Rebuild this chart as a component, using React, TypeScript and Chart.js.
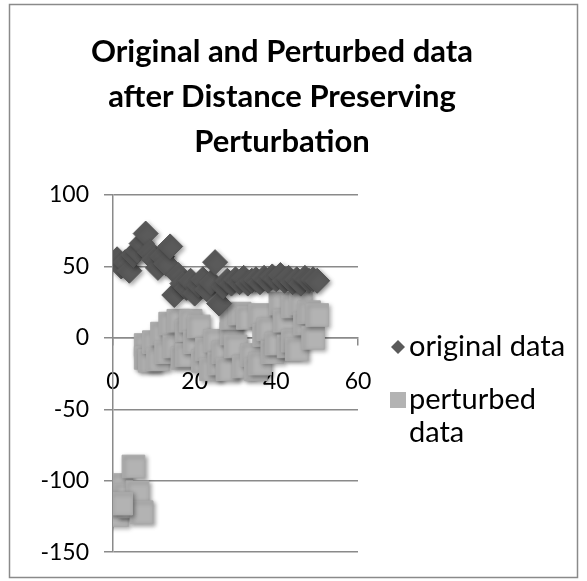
import React, { useEffect, useRef } from "react";
import { Chart, registerables } from "chart.js";

Chart.register(...registerables);

const TITLE_LINES = ["Original and Perturbed data", "after Distance Preserving", "Perturbation"];
const SERIES_NAMES = ["original data", "perturbed data"];
const X_TICKS = [0, 20, 40, 60];
const Y_TICKS = [-150, -100, -50, 0, 50, 100];

const originalX = [1, 2, 3, 4, 5, 6, 7, 8, 9, 10, 11, 12, 13, 14, 15, 16, 17, 18, 19, 20, 21, 22, 23, 24, 25, 26, 27, 28, 29, 30, 31, 32, 33, 34, 35, 36, 37, 38, 39, 40, 41, 42, 43, 44, 45, 46, 47, 48, 49, 50];
const originalY = [55, 50, 53, 47, 58, 61, 66, 73, 60, 55, 49, 57, 52, 64, 30, 44, 38, 35, 40, 31, 37, 41, 34, 39, 53, 24, 36, 40, 38, 41, 39, 42, 38, 40, 41, 39, 42, 40, 43, 41, 44, 40, 42, 39, 41, 38, 42, 40, 41, 40];

const perturbedX = [1, 2, 3, 4, 5, 6, 7, 2, 8, 8, 9, 10, 11, 12, 13, 14, 15, 16, 17, 18, 18, 19, 20, 21, 22, 23, 24, 25, 26, 27, 28, 29, 29, 30, 31, 32, 33, 34, 35, 36, 36, 37, 38, 39, 40, 41, 42, 43, 44, 44, 45, 46, 47, 48, 49, 50];
const perturbedY = [-124, -103, -110, -118, -90, -108, -122, -116, -5, -14, -16, -3, -15, 3, -10, 10, -6, 12, -14, 5, -12, 12, -3, 8, -16, -8, -22, -2, -18, -10, -22, 3, 14, -6, 17, -20, 14, -12, -22, 16, -18, 2, 6, -10, -4, 24, 12, -6, 22, -2, -8, 24, 10, 18, 0, 16];

const DARK = "#5a5a5a";
const LIGHT = "#b3b3b3";
const AXIS = "#8a8a8a";
const FONT = "Lato, 'Open Sans', sans-serif";

const framePlugin = {
  id: "frame",
  beforeDraw(chart: any) {
    const c = chart.ctx;
    c.save();
    c.fillStyle = "#ffffff";
    c.fillRect(0, 0, chart.width, chart.height);
    c.strokeStyle = "#8a8a8a";
    c.lineWidth = 1.5;
    c.strokeRect(9.5, 4.5, 568, 573);
    c.restore();
  },
};

const shadowPlugin = {
  id: "markerShadow",
  beforeDatasetsDraw(chart: any) {
    const c = chart.ctx;
    c.save();
    c.shadowColor = "rgba(0,0,0,0.35)";
    c.shadowBlur = 4;
    c.shadowOffsetX = 2;
    c.shadowOffsetY = 2;
  },
  afterDatasetsDraw(chart: any) {
    chart.ctx.restore();
  },
};

const textPlugin = {
  id: "titleLegend",
  afterDraw(chart: any) {
    const c = chart.ctx;
    c.save();
    c.fillStyle = "#000000";
    c.font = `bold 31px ${FONT}`;
    c.textAlign = "center";
    c.textBaseline = "middle";
    TITLE_LINES.forEach((t, i) => c.fillText(t, 282, 52 + i * 45));
    c.font = `29px ${FONT}`;
    c.textAlign = "left";
    const dx = 398, dy = 347, r = 7;
    c.fillStyle = DARK;
    c.beginPath();
    c.moveTo(dx, dy - r);
    c.lineTo(dx + r, dy);
    c.lineTo(dx, dy + r);
    c.lineTo(dx - r, dy);
    c.closePath();
    c.fill();
    c.fillStyle = "#000000";
    c.fillText(SERIES_NAMES[0], 409, dy);
    const sy = 400;
    c.fillStyle = LIGHT;
    c.fillRect(390, sy - 8, 16, 16);
    c.fillStyle = "#000000";
    const parts = SERIES_NAMES[1].split(" ");
    c.fillText(parts[0], 409, sy);
    c.fillText(parts[1], 409, sy + 33);
    c.restore();
  },
};

export default function App() {
  const ref = useRef<HTMLCanvasElement | null>(null);
  useEffect(() => {
    if (!ref.current) return;
    const chart = new Chart(ref.current, {
      type: "scatter",
      data: {
        datasets: [
          {
            label: SERIES_NAMES[0],
            data: originalX.map((x, i) => ({ x, y: originalY[i] })),
            pointStyle: "rectRot",
            pointRadius: 12.5,
            backgroundColor: DARK,
            borderColor: "#555555",
            borderWidth: 1,
          },
          {
            label: SERIES_NAMES[1],
            data: perturbedX.map((x, i) => ({ x, y: perturbedY[i] })),
            pointStyle: "rect",
            pointRadius: 16,
            backgroundColor: LIGHT,
            borderColor: "#a9a9a9",
            borderWidth: 1,
          },
        ],
      },
      options: {
        responsive: false,
        animation: false,
        events: [],
        layout: { padding: { left: 0, top: 195, right: 229, bottom: 25 } },
        plugins: {
          legend: { display: false },
          title: { display: false },
          tooltip: { enabled: false },
        },
        scales: {
          x: {
            type: "linear",
            position: { y: 0 } as any,
            min: 0,
            max: 60,
            afterBuildTicks: (s: any) => {
              s.ticks = X_TICKS.map((v) => ({ value: v }));
            },
            ticks: {
              color: "#000000",
              font: { family: FONT, size: 23 },
              padding: 23,
              maxRotation: 0,
            },
            grid: {
              display: true,
              drawOnChartArea: false,
              drawTicks: true,
              tickLength: 7,
              color: AXIS,
              lineWidth: 1.5,
            },
            border: { display: true, color: AXIS, width: 1.5 },
          },
          y: {
            type: "linear",
            position: "left",
            min: -150,
            max: 100,
            afterBuildTicks: (s: any) => {
              s.ticks = Y_TICKS.map((v) => ({ value: v }));
            },
            afterFit: (s: any) => {
              s.width = 113;
            },
            ticks: {
              color: "#000000",
              font: { family: FONT, size: 23 },
              padding: 15,
            },
            grid: {
              display: true,
              drawTicks: true,
              tickLength: 9,
              color: AXIS,
              lineWidth: 1.5,
            },
            border: { display: true, color: AXIS, width: 1.5 },
          },
        },
      },
      plugins: [framePlugin, shadowPlugin, textPlugin],
    });
    return () => chart.destroy();
  }, []);
  return (
    <div style={{ position: "absolute", left: 0, top: 0, width: 587, height: 581 }}>
      <canvas ref={ref} width={587} height={581} />
    </div>
  );
}
